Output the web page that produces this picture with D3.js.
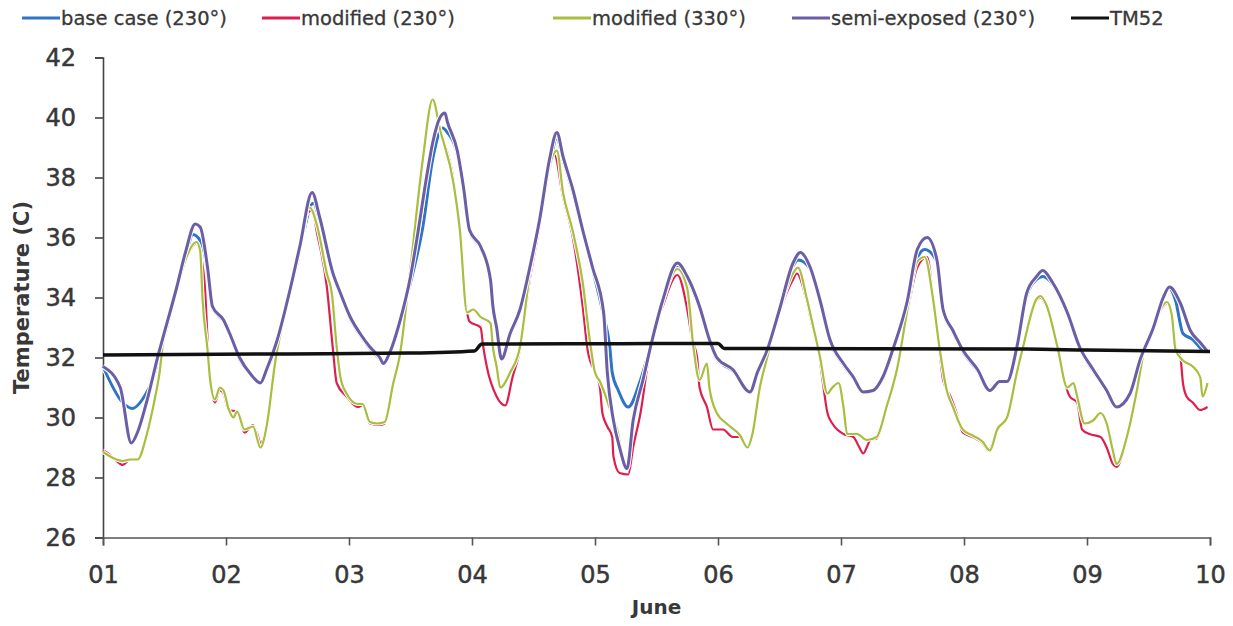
<!DOCTYPE html>
<html>
<head>
<meta charset="utf-8">
<script src="https://cdn.jsdelivr.net/npm/d3@7"></script>
<style>
  html, body { margin: 0; padding: 0; background: #fff; }
  svg { display: block; }
  text { font-family: "DejaVu Sans", sans-serif; fill: #383838; }
</style>
</head>
<body>
<svg id="chart" width="1233" height="626"></svg>
<script>
// Hourly-resolution indoor temperature traces, 1–10 June.
// Each point: [days since 01 June 00:00, temperature °C]
const baseCase230 = [
  [0.00,31.7],[0.16,30.5],[0.24,30.3],[0.32,30.6],[0.41,31.35],[0.46,32.1],[0.60,34.3],[0.67,35.3],[0.73,36.1],
  [0.79,35.9],[0.85,34.9],[0.89,33.65],[0.98,33.2],[1.03,32.75],[1.11,31.95],[1.20,31.45],[1.28,31.15],[1.33,31.55],
  [1.41,32.45],[1.52,34.2],[1.60,35.6],[1.71,37.15],[1.76,36.6],[1.87,34.75],[1.93,34.1],[2.01,33.3],[2.09,32.75],
  [2.17,32.3],[2.25,31.95],[2.28,31.8],[2.33,32.1],[2.41,33.1],[2.50,34.5],[2.60,36.35],[2.68,38.6],[2.76,39.65],
  [2.80,39.5],[2.88,38.8],[2.93,37.6],[2.98,36.2],[3.07,35.65],[3.15,34.55],[3.17,33.65],[3.20,32.95],[3.24,32.0],
  [3.31,32.75],[3.39,33.55],[3.47,34.95],[3.55,36.5],[3.63,38.4],[3.69,39.3],[3.74,38.6],[3.82,37.5],[3.90,36.2],
  [3.98,34.95],[4.07,33.4],[4.12,32.35],[4.14,31.5],[4.19,30.9],[4.27,30.35],[4.37,31.25],[4.45,32.35],[4.55,33.85],
  [4.67,35.0],[4.75,34.6],[4.85,33.65],[4.93,32.55],[4.99,31.95],[5.12,31.55],[5.26,30.85],[5.32,31.45],[5.40,32.2],
  [5.50,33.55],[5.61,35.05],[5.65,35.25],[5.75,34.95],[5.83,33.85],[5.91,32.55],[6.02,31.75],[6.10,31.3],[6.18,30.85],
  [6.26,30.9],[6.34,31.3],[6.42,32.2],[6.54,33.85],[6.62,35.3],[6.68,35.6],[6.78,35.2],[6.83,33.55],[6.91,32.85],
  [6.99,32.2],[7.11,31.55],[7.21,30.9],[7.29,31.2],[7.35,31.2],[7.43,32.3],[7.51,34.05],[7.59,34.6],[7.64,34.7],
  [7.72,34.45],[7.84,33.45],[7.94,32.3],[8.05,31.55],[8.16,30.9],[8.24,30.35],[8.35,30.8],[8.43,31.85],[8.54,32.95],
  [8.62,33.95],[8.66,34.35],[8.72,33.9],[8.78,32.8],[8.86,32.6],[8.94,32.25],[8.98,32.2]
];

const modified230 = [
  [0.00,28.9],[0.06,28.75],[0.11,28.55],[0.16,28.42],[0.22,28.6],[0.28,28.6],[0.36,29.5],[0.42,30.6],[0.46,31.5],
  [0.49,32.5],[0.60,34.2],[0.67,35.2],[0.76,35.8],[0.79,35.5],[0.83,34.25],[0.85,32.6],[0.87,31.25],[0.91,30.5],
  [0.95,30.9],[0.98,30.8],[1.02,30.25],[1.09,30.2],[1.15,29.5],[1.22,29.75],[1.25,29.5],[1.28,29.15],[1.33,29.7],
  [1.40,31.85],[1.52,34.1],[1.60,35.5],[1.66,36.8],[1.70,36.9],[1.74,36.15],[1.82,34.35],[1.87,32.25],[1.90,31.15],
  [1.98,30.7],[2.07,30.35],[2.11,30.4],[2.17,29.8],[2.25,29.75],[2.29,29.8],[2.36,31.15],[2.41,32.0],[2.50,35.0],
  [2.60,38.6],[2.68,40.6],[2.74,39.6],[2.85,37.9],[2.90,36.25],[2.96,33.5],[2.98,33.2],[3.07,33.0],[3.09,32.4],
  [3.12,31.7],[3.20,30.7],[3.27,30.4],[3.33,31.35],[3.39,32.25],[3.47,34.6],[3.55,36.4],[3.63,38.3],[3.67,38.75],
  [3.74,37.35],[3.82,36.0],[3.90,33.7],[3.94,32.25],[4.04,31.0],[4.06,30.15],[4.10,29.7],[4.14,29.35],[4.15,28.7],
  [4.20,28.15],[4.27,28.1],[4.31,29.0],[4.37,30.15],[4.45,32.35],[4.55,33.7],[4.67,34.75],[4.75,33.6],[4.79,32.6],
  [4.83,32.0],[4.85,31.0],[4.91,30.35],[4.96,29.6],[5.04,29.6],[5.12,29.35],[5.18,29.35],[5.24,29.0],[5.28,29.45],
  [5.34,31.0],[5.40,32.0],[5.50,33.5],[5.61,34.6],[5.64,34.8],[5.72,33.9],[5.77,33.0],[5.81,32.45],[5.85,31.25],
  [5.89,30.15],[5.93,29.8],[6.02,29.45],[6.10,29.35],[6.15,29.0],[6.18,28.8],[6.24,29.25],[6.29,29.3],[6.37,30.35],
  [6.46,31.7],[6.54,33.5],[6.62,35.0],[6.70,35.35],[6.75,33.9],[6.80,32.25],[6.83,31.25],[6.89,30.7],[6.94,30.15],
  [6.99,29.5],[7.07,29.35],[7.15,29.15],[7.20,28.9],[7.27,29.6],[7.35,30.0],[7.43,31.5],[7.48,32.35],[7.59,33.9],
  [7.62,34.0],[7.67,33.7],[7.76,32.35],[7.80,31.5],[7.86,30.7],[7.92,30.5],[7.96,29.6],[8.02,29.45],[8.11,29.35],
  [8.16,29.0],[8.21,28.45],[8.24,28.35],[8.33,29.45],[8.41,31.0],[8.46,32.15],[8.54,33.0],[8.65,33.8],[8.69,33.35],
  [8.72,32.35],[8.76,32.0],[8.78,31.15],[8.81,30.7],[8.86,30.5],[8.92,30.25],[8.98,30.35]
];

const modified330 = [
  [0.00,28.85],[0.06,28.7],[0.11,28.6],[0.16,28.55],[0.22,28.6],[0.28,28.6],[0.36,29.5],[0.42,30.6],[0.46,31.5],
  [0.49,32.6],[0.60,34.25],[0.67,35.25],[0.76,35.85],[0.79,35.55],[0.81,33.9],[0.85,32.25],[0.87,31.3],[0.91,30.6],
  [0.95,31.0],[0.98,30.9],[1.02,30.3],[1.06,30.0],[1.09,30.2],[1.15,29.6],[1.22,29.7],[1.28,29.0],[1.33,29.7],
  [1.40,31.85],[1.52,34.15],[1.60,35.6],[1.68,37.0],[1.74,36.4],[1.82,34.8],[1.86,34.15],[1.90,32.35],[1.93,31.35],
  [1.98,30.8],[2.07,30.45],[2.11,30.45],[2.17,29.85],[2.23,29.8],[2.29,29.85],[2.36,31.15],[2.41,32.0],[2.50,35.0],
  [2.60,38.6],[2.68,40.6],[2.74,39.6],[2.85,37.8],[2.90,36.3],[2.96,33.5],[3.01,33.6],[3.07,33.35],[3.15,33.15],
  [3.17,32.35],[3.20,31.7],[3.23,31.0],[3.31,31.5],[3.39,32.35],[3.47,34.8],[3.55,36.6],[3.63,38.4],[3.69,38.9],
  [3.74,37.5],[3.82,36.2],[3.90,34.5],[3.96,32.5],[4.00,31.5],[4.04,31.2],[4.07,30.9],[4.12,30.3],[4.18,29.6],
  [4.23,28.6],[4.26,28.35],[4.31,29.9],[4.39,31.25],[4.46,32.5],[4.55,33.85],[4.67,34.95],[4.75,34.3],[4.80,32.35],
  [4.85,31.25],[4.91,31.8],[4.93,31.0],[4.99,30.15],[5.07,29.8],[5.18,29.4],[5.24,29.0],[5.28,29.45],[5.34,31.0],
  [5.40,32.0],[5.50,33.55],[5.61,34.8],[5.65,35.0],[5.72,34.0],[5.77,33.1],[5.83,32.0],[5.89,30.8],[5.93,31.0],
  [5.98,31.15],[6.02,30.35],[6.05,29.45],[6.13,29.45],[6.21,29.25],[6.29,29.35],[6.37,30.35],[6.46,31.7],[6.54,33.6],
  [6.62,35.2],[6.68,35.35],[6.75,33.9],[6.80,32.35],[6.86,30.9],[6.91,30.35],[6.99,29.6],[7.07,29.4],[7.15,29.2],
  [7.21,28.9],[7.27,29.6],[7.35,30.0],[7.43,31.5],[7.48,32.35],[7.59,33.95],[7.62,34.05],[7.67,33.75],[7.76,32.35],
  [7.84,31.0],[7.89,31.15],[7.92,30.7],[7.98,29.8],[8.05,29.9],[8.11,30.15],[8.16,29.8],[8.21,28.9],[8.24,28.45],
  [8.33,29.45],[8.41,31.0],[8.46,32.15],[8.54,33.05],[8.65,33.85],[8.69,33.4],[8.72,32.25],[8.78,31.9],[8.86,31.7],
  [8.92,31.35],[8.94,30.7],[8.98,31.15]
];

const semiExposed230 = [
  [0.00,31.7],[0.14,31.0],[0.23,29.15],[0.28,29.5],[0.36,30.6],[0.45,32.1],[0.49,32.7],[0.60,34.35],[0.67,35.5],
  [0.75,36.45],[0.79,36.35],[0.85,35.0],[0.89,33.7],[0.98,33.25],[1.03,32.8],[1.11,32.0],[1.20,31.45],[1.28,31.15],
  [1.33,31.6],[1.41,32.5],[1.52,34.25],[1.60,35.7],[1.70,37.5],[1.76,36.7],[1.87,34.8],[1.93,34.15],[2.01,33.35],
  [2.09,32.8],[2.17,32.35],[2.25,32.0],[2.28,31.8],[2.33,32.15],[2.41,33.15],[2.50,34.7],[2.55,35.9],[2.63,38.0],
  [2.68,39.15],[2.74,40.0],[2.78,40.15],[2.80,39.85],[2.88,38.9],[2.93,37.7],[2.98,36.25],[3.07,35.7],[3.15,34.6],
  [3.17,33.7],[3.20,33.0],[3.24,31.95],[3.31,32.8],[3.39,33.6],[3.47,35.0],[3.55,36.6],[3.63,38.6],[3.69,39.5],
  [3.74,38.7],[3.82,37.6],[3.90,36.25],[3.98,35.0],[4.07,33.5],[4.10,31.5],[4.15,29.9],[4.20,29.0],[4.26,28.3],
  [4.31,29.9],[4.39,31.25],[4.46,32.5],[4.55,33.9],[4.67,35.15],[4.75,34.7],[4.85,33.7],[4.93,32.6],[4.99,32.0],
  [5.12,31.6],[5.26,30.85],[5.32,31.5],[5.40,32.25],[5.50,33.6],[5.61,35.15],[5.67,35.5],[5.75,35.0],[5.83,33.9],
  [5.91,32.6],[6.02,31.8],[6.10,31.35],[6.18,30.85],[6.26,30.9],[6.34,31.35],[6.42,32.25],[6.54,33.9],[6.62,35.6],
  [6.70,36.0],[6.78,35.25],[6.83,33.6],[6.91,32.9],[6.99,32.25],[7.11,31.6],[7.21,30.9],[7.29,31.2],[7.35,31.2],
  [7.43,32.35],[7.51,34.15],[7.59,34.7],[7.64,34.9],[7.72,34.5],[7.84,33.5],[7.94,32.35],[8.05,31.6],[8.16,30.9],
  [8.24,30.35],[8.35,30.8],[8.43,31.9],[8.54,33.0],[8.62,34.0],[8.67,34.35],[8.76,33.8],[8.84,32.9],[8.92,32.5],
  [8.98,32.2]
];

const tm52 = [
  [0.00,32.08],[1.50,32.12],[2.50,32.15],[3.02,32.22],[3.08,32.45],[4.20,32.46],[5.00,32.47],[5.05,32.3],
  [7.50,32.28],[8.00,32.25],[9.00,32.2]
];

const seriesNames = ["base case (230°)", "modified (230°)", "modified (330°)", "semi-exposed (230°)", "TM52"];
const seriesData = [baseCase230, modified230, modified330, semiExposed230, tm52];
const seriesColors = ["#2f74c6", "#dc1f4e", "#a9bd3f", "#6c5ea6", "#111111"];
const seriesWidths = [3, 2.2, 2.2, 3, 3.5];

const dayLabels = ["01", "02", "03", "04", "05", "06", "07", "08", "09", "10"];
const tempTicks = [26, 28, 30, 32, 34, 36, 38, 40, 42];

const svg = d3.select("#chart");
const plot = { left: 103, right: 1210, top: 57.5, bottom: 537.5 };

const x = d3.scaleLinear().domain([0, 9]).range([plot.left, plot.right]);
const y = d3.scaleLinear().domain([26, 42]).range([plot.bottom, plot.top]);

// Axes
const yAxis = d3.axisLeft(y).tickValues(tempTicks).tickSize(8).tickPadding(19).tickFormat(d3.format("d"));
const gy = svg.append("g").attr("transform", `translate(${plot.left},0)`).call(yAxis);
gy.selectAll("path, line").attr("stroke", "#444").attr("stroke-width", 1.6);
gy.selectAll("text").style("font-size", "24px").attr("stroke", "#383838").attr("stroke-width", 0.5);

const xAxis = d3.axisBottom(x).tickValues(d3.range(dayLabels.length)).tickSize(8).tickPadding(20)
  .tickFormat(i => dayLabels[i]);
const gx = svg.append("g").attr("transform", `translate(0,${plot.bottom})`).call(xAxis);
gx.selectAll("path, line").attr("stroke", "#555").attr("stroke-width", 1.6);
gx.selectAll("text").style("font-size", "24px").attr("stroke", "#383838").attr("stroke-width", 0.5);

// Series lines, each with a thin white halo underneath
const line = d3.line().curve(d3.curveMonotoneX).x(d => x(d[0])).y(d => y(d[1]));
seriesData.forEach((data, i) => {
  const g = svg.append("g").attr("class", "series");
  if (i < 4) {
    g.append("path").datum(data).attr("d", line).attr("fill", "none")
      .attr("stroke", "#fff").attr("stroke-width", seriesWidths[i] + 2).attr("stroke-linejoin", "round");
  }
  g.append("path").datum(data).attr("d", line).attr("fill", "none")
    .attr("stroke", seriesColors[i]).attr("stroke-width", seriesWidths[i]).attr("stroke-linejoin", "round");
});

// Axis titles
svg.append("text").attr("x", (plot.left + plot.right) / 2).attr("y", 614)
  .attr("text-anchor", "middle").style("font-size", "20px").style("font-weight", "bold").text("June");
svg.append("text").attr("transform", `translate(29,${(plot.top + plot.bottom) / 2}) rotate(-90)`)
  .attr("text-anchor", "middle").style("font-size", "21px").style("font-weight", "bold").text("Temperature (C)");

// Legend
const legendX = [22, 262, 553, 792, 1071];
const legend = svg.append("g");
seriesNames.forEach((name, i) => {
  const g = legend.append("g").attr("transform", `translate(${legendX[i]},18)`);
  g.append("line").attr("x1", 0).attr("x2", 38).attr("y1", 0).attr("y2", 0)
    .attr("stroke", seriesColors[i]).attr("stroke-width", 3);
  g.append("text").attr("x", 39).attr("y", 0).attr("dy", "0.35em").style("font-size", "19.5px")
    .attr("stroke", "#383838").attr("stroke-width", 0.3).text(name);
});
</script>
</body>
</html>
